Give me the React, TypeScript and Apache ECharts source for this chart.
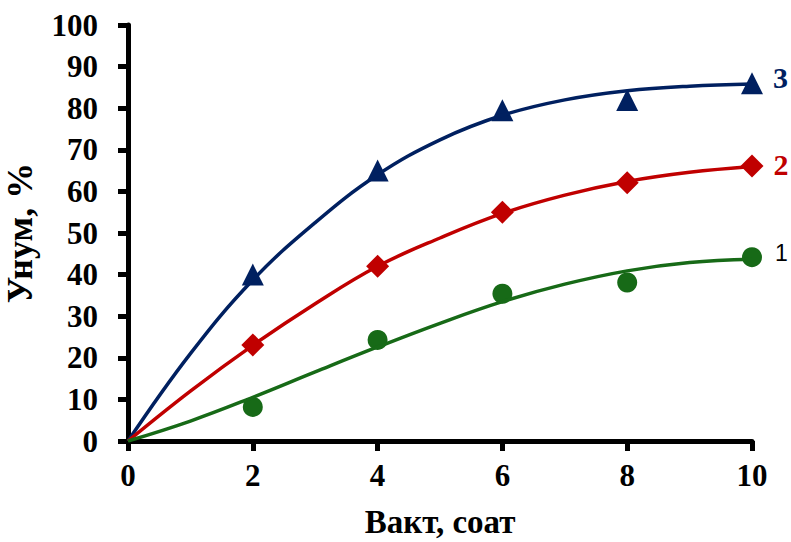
import React, { useEffect, useRef } from "react";
import * as echarts from "echarts";

const xPoints = [2, 4, 6, 8, 10];
const series3 = [40, 65, 79.5, 82, 86];
const series2 = [23.1, 42, 55, 62.1, 66.1];
const series1 = [8.2, 24.3, 35.4, 38.1, 44.2];

const trendX = [0, 1, 2, 3, 4, 5, 6, 7, 8, 9, 10];
const trend3 = [0, 21, 38.7, 52.5, 64, 72.4, 78.3, 82, 84.2, 85.3, 85.8];
const trend2 = [0, 12, 23, 33, 42, 48.8, 54.7, 59.1, 62.4, 64.6, 66];
const trend1 = [0, 4.8, 10.5, 16.6, 22.6, 28.3, 33.5, 37.7, 40.9, 42.9, 43.7];

const seriesLabels = ["3", "2", "1"];
const xTitle = "Вакт, соат";
const yTitle = "Унум, %";

const NAVY = "#002060";
const RED = "#C00000";
const GREEN = "#176A17";
const SERIF = "'Liberation Serif', 'Times New Roman', serif";

function pts(ys: number[], xs: number[]) {
  return xs.map((x, i) => [x, ys[i]]);
}

function withEndLabel(ys: number[], text: string, color: string, bold: boolean, font: string, size: number, dy: number, dist: number) {
  const d: any[] = pts(ys, xPoints);
  const last = d.length - 1;
  d[last] = {
    value: d[last],
    label: {
      show: true,
      position: "right",
      distance: dist,
      formatter: text,
      color,
      fontFamily: font,
      fontWeight: bold ? "bold" : "normal",
      fontSize: size,
      offset: [0, dy],
    },
  };
  return d;
}

export default function App() {
  const ref = useRef<HTMLDivElement>(null);
  useEffect(() => {
    document.body.style.margin = "0";
    const chart = echarts.init(ref.current!, null, { renderer: "svg" });
    const axisLine = { show: true, onZero: false, lineStyle: { color: "#000", width: 5 } };
    const tick = { show: true, inside: false, length: 10, lineStyle: { color: "#000", width: 5 } };
    const lineSeries = (data: number[], color: string) => ({
      type: "line",
      smooth: 0.4,
      showSymbol: false,
      lineStyle: { color, width: 3.5 },
      data: pts(data, trendX),
      z: 3,
    });
    chart.setOption({
      animation: false,
      grid: { left: 128, right: 39, top: 25, bottom: 101, containLabel: false, outerBoundsMode: "none" },
      xAxis: {
        type: "value",
        min: 0,
        max: 10,
        interval: 2,
        axisLine,
        axisTick: tick,
        splitLine: { show: false },
        axisLabel: { color: "#000", fontFamily: SERIF, fontWeight: "bold", fontSize: 31, margin: 19 },
        name: xTitle,
        nameLocation: "middle",
        nameGap: 67,
        nameTextStyle: { color: "#000", fontFamily: SERIF, fontWeight: "bold", fontSize: 33, lineHeight: 28 },
      },
      yAxis: {
        type: "value",
        min: 0,
        max: 100,
        interval: 10,
        axisLine,
        axisTick: tick,
        splitLine: { show: false },
        axisLabel: { color: "#000", fontFamily: SERIF, fontWeight: "bold", fontSize: 31, margin: 30 },
        name: yTitle,
        nameLocation: "middle",
        nameGap: 90,
        nameTextStyle: { color: "#000", fontFamily: SERIF, fontWeight: "bold", fontSize: 36 },
      },
      series: [
        {
          type: "scatter",
          symbol: "triangle",
          symbolSize: 22,
          itemStyle: { color: NAVY, opacity: 1 },
          data: withEndLabel(series3, seriesLabels[0], NAVY, true, SERIF, 30, -6, 10),
          z: 2,
        },
        {
          type: "scatter",
          symbol: "diamond",
          symbolSize: 23,
          itemStyle: { color: RED, opacity: 1 },
          data: withEndLabel(series2, seriesLabels[1], RED, true, SERIF, 30, -2, 10),
          z: 2,
        },
        {
          type: "scatter",
          symbol: "circle",
          symbolSize: 20,
          itemStyle: { color: GREEN, opacity: 1 },
          data: withEndLabel(series1, seriesLabels[2], "#000", false, "'Liberation Sans', Arial, sans-serif", 23, -4, 13),
          z: 2,
        },
        lineSeries(trend3, NAVY),
        lineSeries(trend2, RED),
        lineSeries(trend1, GREEN),
      ],
    });
    return () => chart.dispose();
  }, []);
  return <div ref={ref} style={{ position: "absolute", left: 0, top: 0, width: 791, height: 542 }} />;
}
